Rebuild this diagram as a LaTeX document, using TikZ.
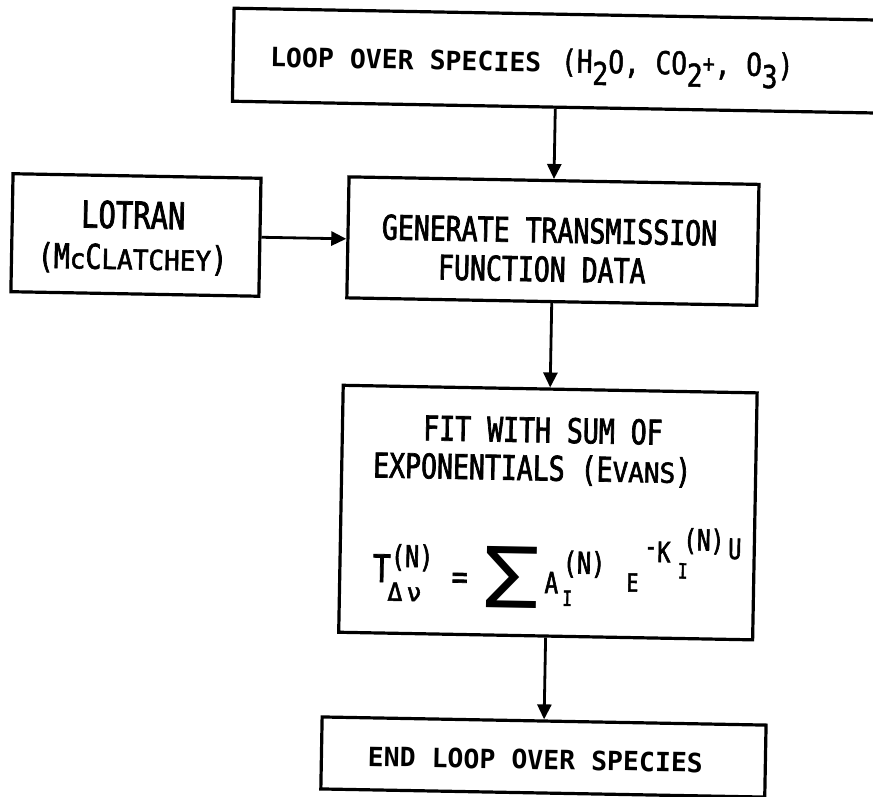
\documentclass[tikz,border=0pt]{standalone}
\usepackage{fontspec}
\usepackage{graphicx}
\usetikzlibrary{arrows.meta}
\newfontfamily\fA[FakeStretch=0.78,FakeBold=2]{DejaVu Sans Mono}
\newfontfamily\fS[FakeStretch=0.95,FakeBold=2]{DejaVu Sans Mono}
\newfontfamily\fC[FakeStretch=0.83,FakeBold=1.5]{DejaVu Sans Mono}
\newfontfamily\fM[FakeBold=2]{DejaVu Sans Mono}
\newfontfamily\fP{DejaVu Sans Mono}
\newfontfamily\fBold{DejaVu Sans Mono Bold}
\newcommand\setfs[1]{\fontsize{#1}{#1}\selectfont}
\newcommand\Lg[1]{{\fA\setfs{34}#1}}
\newcommand\Sm[1]{{\fS\setfs{27.4}#1}}
\newcommand\chsub[1]{\raisebox{-12pt}{#1}}
\begin{document}
\begin{tikzpicture}[x=1pt,y=-1pt,
  box/.style={draw, line width=3.2pt, inner sep=0pt},
  txt/.style={inner sep=0pt, outer sep=0pt},
  arr/.style={line width=2.8pt, -{Triangle[length=15pt,width=14pt]}}]
\fill[white] (0,0) rectangle (873,797);
\useasboundingbox (0,0) rectangle (873,797);
\begin{scope}[rotate around={-1.05:(436,398)}, transform shape]
  % boxes
  \node[box, minimum width=668pt, minimum height=93pt] (top) at (561,58.5) {};
  \node[box, minimum width=248pt, minimum height=118pt] (lot) at (133,240.5) {};
  \node[box, minimum width=410pt, minimum height=121pt] (gen) at (550,239) {};
  \node[box, minimum width=414pt, minimum height=247pt] (fit) at (550,510.5) {};
  \node[box, minimum width=444pt, minimum height=72pt] (end) at (550,755) {};
  % top text
  \node[txt, anchor=base west] (tloop) at (264,70) {\fBold\setfs{26.5}LOOP OVER SPECIES};
  \node[txt, anchor=base west] (tchem) at (555,70) {\fC\setfs{31.5}(H\chsub{2}O, CO\chsub{2}\raisebox{3pt}{\setfs{24}+}, O\chsub{3})};
  % lotran text
  \node[txt, anchor=base] (tlot1) at (130,234) {\fA\setfs{37}LOTRAN};
  \node[txt, anchor=base] (tlot2) at (130,275) {\Lg{(M}\Sm{c}\Lg{C}\Sm{LATCHEY}\Lg{)}};
  % generate text
  \node[txt, anchor=base] (tgen1) at (546.5,240.5) {\Lg{GENERATE TRANSMISSION}};
  \node[txt, anchor=base] (tgen2) at (539.5,279.5) {\Lg{FUNCTION DATA}};
  % fit text
  \node[txt, anchor=base] (tfit1) at (543.6,440.5) {\Lg{FIT WITH SUM OF}};
  \node[txt, anchor=base] (tfit2) at (533.5,478.5) {\Lg{EXPONENTIALS (E}\Sm{VANS}\Lg{)}};
  % formula
  \node[txt, anchor=base west] (fT)   at (376,583)   {\fA\setfs{38}T};
  \node[txt, anchor=base west] (fTn)  at (394,567.5) {\fA\setfs{30}(N)};
  \node[txt, anchor=base west] (fTd)  at (391,601.5) {\fM\setfs{25}Δ\hspace{4pt}ν};
  \node[txt, anchor=base west] (feq)  at (455,588)   {\fA\setfs{34}=};
  \node[txt, anchor=base west] (fsum) at (484,607)   {\scalebox{1.2}[1]{\fP\setfs{84}Σ}};
  \node[txt, anchor=base west] (fA)   at (548,591)   {\fA\setfs{29}A};
  \node[txt, anchor=base west] (fAi)  at (566,603.5) {\fA\setfs{21}I};
  \node[txt, anchor=base west] (fAn)  at (566,571)   {\fA\setfs{30}(N)};
  \node[txt, anchor=base west] (fE)   at (630,588)   {\fA\setfs{25}E};
  \node[txt, anchor=base west] (fK)   at (647,558)   {\fA\setfs{28}\raisebox{6pt}{-}K};
  \node[txt, anchor=base west] (fKi)  at (681,574)   {\fA\setfs{21}I};
  \node[txt, anchor=base west] (fKn)  at (686,545.5) {\fA\setfs{29}(N)};
  \node[txt, anchor=base west] (fU)   at (731,553.5) {\fA\setfs{28}U};
  % end text
  \node[txt, anchor=base] (tend) at (542,767.5) {\fBold\setfs{26.5}END LOOP OVER SPECIES};
  % arrows
  \draw[arr] (top.south -| gen.north) -- (gen.north);
  \draw[arr] (lot.east) -- (lot.east -| gen.west);
  \draw[arr] (gen.south) -- (fit.north);
  \draw[arr] (fit.south) -- (end.north);
\end{scope}
\end{tikzpicture}
\end{document}
